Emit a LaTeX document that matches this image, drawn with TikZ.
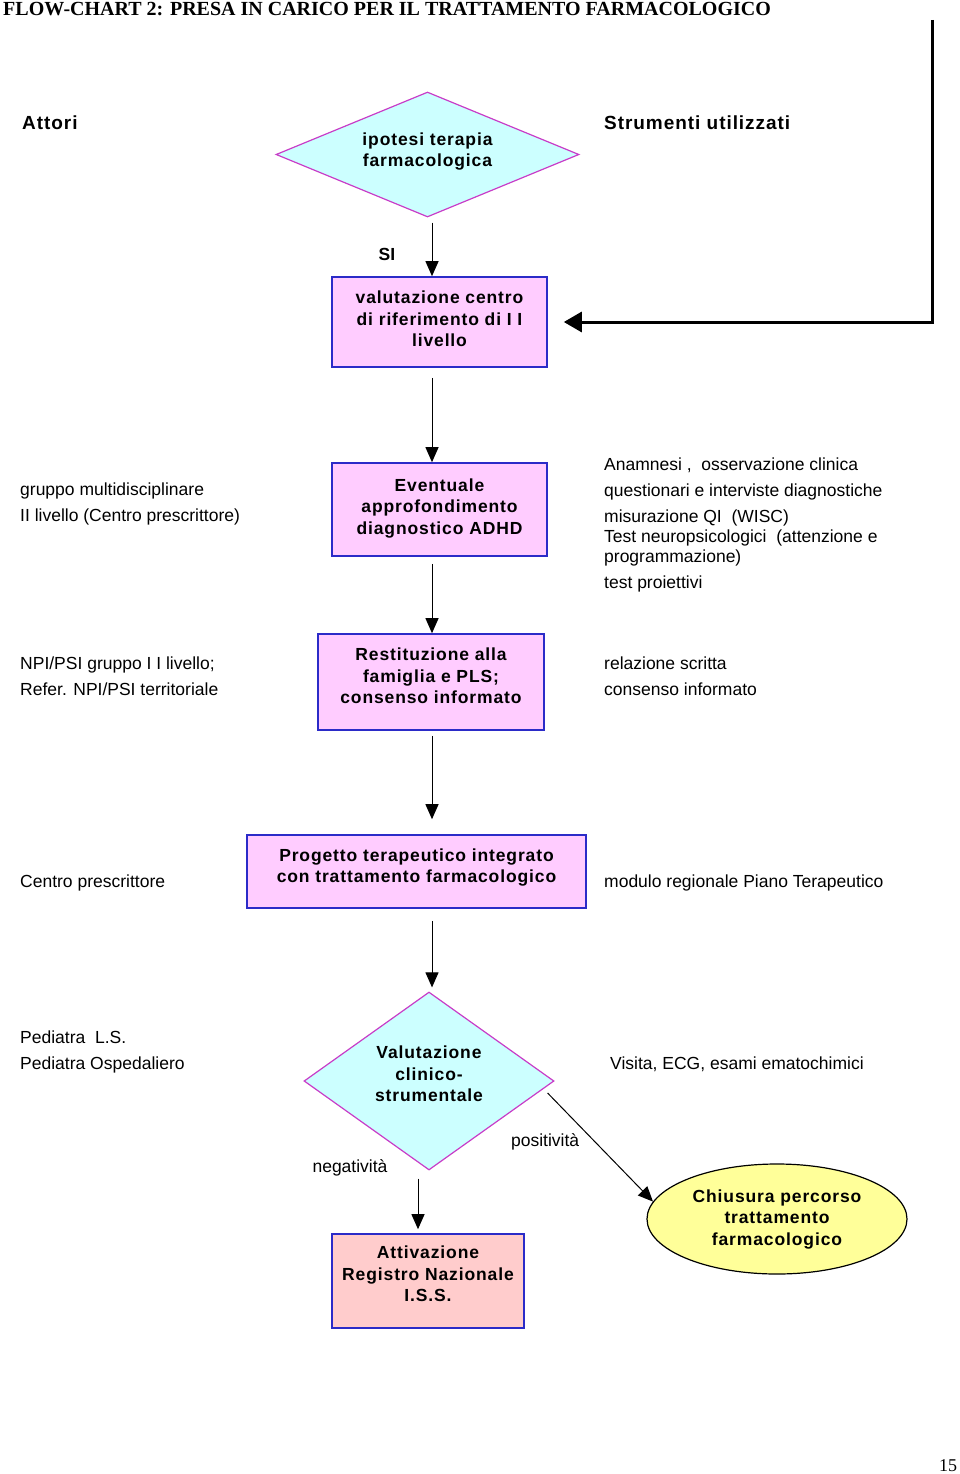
\documentclass[tikz,border=0pt]{standalone}
\usepackage{fontspec}
\setmainfont{Liberation Sans}
\newfontfamily\boxfont{Liberation Sans}[LetterSpace=5]
\newfontfamily\titlefont{Liberation Serif}
\usetikzlibrary{shapes.geometric, arrows.meta, calc}
\usepackage{xcolor}
\definecolor{boxpink}{HTML}{FFCCFF}
\definecolor{boxsalmon}{HTML}{FFCCCC}
\definecolor{boxblue}{HTML}{2B2BC8}
\definecolor{diacyan}{HTML}{CCFFFF}
\definecolor{diamag}{HTML}{C83CC8}
\definecolor{ellyellow}{HTML}{FFFF99}

\begin{document}
\begin{tikzpicture}[
    x=1pt, y=-1pt,
    box/.style={rectangle, draw=boxblue, line width=1.6pt, fill=boxpink, align=center, inner sep=0pt,
        font=\boxfont\bfseries\fontsize{17.5}{21.5}\selectfont},
    decision/.style={diamond, draw=diamag, line width=1.2pt, fill=diacyan, align=center, inner sep=0pt,
        font=\boxfont\bfseries\fontsize{17.5}{21.5}\selectfont},
    closing/.style={ellipse, draw, line width=1.2pt, fill=ellyellow, align=center, inner sep=0pt,
        font=\boxfont\bfseries\fontsize{17.5}{21.5}\selectfont},
    side/.style={anchor=west, align=left, inner sep=0pt, font=\fontsize{17.5}{26}\selectfont},
    header/.style={anchor=west, inner sep=0pt, font=\boxfont\bfseries\fontsize{19}{23}\selectfont},
    arrow/.style={-{Triangle[length=15pt, width=13pt]}, line width=1pt},
    fback/.style={-{Triangle[length=18pt, width=20pt]}, line width=3pt}
]
    \useasboundingbox (0,0) rectangle (960,1474);

    % title and page number
    \node[anchor=base west, inner sep=0pt, font=\titlefont\bfseries\fontsize{20}{24}\selectfont] (title) at (3,16)
        {FLOW-CHART 2: PRESA IN CARICO PER IL TRATTAMENTO FARMACOLOGICO};
    \node[inner sep=0pt, font=\titlefont\fontsize{18}{22}\selectfont] (page) at (948,1466) {15};

    % column headers
    \node[header] (attori) at (22,123) {Attori};
    \node[header] (strumenti) at (604,123) {Strumenti utilizzati};

    % main flow
    \node[decision, aspect=2.4, minimum width=303pt, minimum height=125pt, text depth=10pt] (ipotesi) at (427.5,154.5)
        {ipotesi terapia\\farmacologica};
    \node[box, minimum width=215pt, minimum height=90pt, text depth=6pt] (valutazione) at (439.5,322)
        {valutazione centro\\di riferimento di I I\\livello};
    \node[box, minimum width=215pt, minimum height=93pt, text depth=6pt] (approf) at (439.5,509.5)
        {Eventuale\\approfondimento\\diagnostico ADHD};
    \node[box, minimum width=226pt, minimum height=96pt, text depth=12pt] (restituzione) at (431,682)
        {Restituzione alla\\famiglia e PLS;\\consenso informato};
    \node[box, minimum width=339pt, minimum height=73pt, text depth=12pt] (progetto) at (416.5,871.5)
        {Progetto terapeutico integrato\\con trattamento farmacologico};
    \node[decision, aspect=1.4, minimum width=250pt, minimum height=178pt, text depth=14pt] (clinico) at (429,1081)
        {Valutazione\\clinico-\\strumentale};
    \node[box, fill=boxsalmon, minimum width=192pt, minimum height=94pt, text depth=14pt] (registro) at (428,1281)
        {Attivazione\\Registro Nazionale\\I.S.S.};
    \node[closing, minimum width=260pt, minimum height=110pt] (chiusura) at (777,1219)
        {Chiusura percorso\\trattamento\\farmacologico};

    % actors
    \node[side] (attApprof) at (20,504) {gruppo multidisciplinare\\II livello (Centro prescrittore)};
    \node[side] (attRest) at (20,676) {NPI/PSI gruppo I I livello;\\Refer. NPI/PSI territoriale};
    \node[side] (attProg) at (20,883) {Centro prescrittore};
    \node[side] (attClin) at (20,1052) {Pediatra~~L.S.\\Pediatra Ospedaliero};

    % tools
    \node[side] (strApprof) at (604,525) {Anamnesi ,~~osservazione clinica\\
        questionari e interviste diagnostiche\\
        misurazione QI~~(WISC)\\[-6pt]
        Test neuropsicologici~~(attenzione e\\[-6pt]
        programmazione)\\
        test proiettivi};
    \node[side] (strRest) at (604,676) {relazione scritta\\consenso informato};
    \node[side] (strProg) at (604,883) {modulo regionale Piano Terapeutico};
    \node[side] (strClin) at (610,1064) {Visita, ECG, esami ematochimici};

    % connectors
    \coordinate (spine) at (432,0);
    \coordinate (fbtop) at (932,20);
    \draw[arrow, shorten <=5pt] (ipotesi.south -| spine) -- (valutazione.north -| spine);
    \node[inner sep=0pt, font=\bfseries\fontsize{17.5}{21}\selectfont] (si) at (387,254) {SI};
    \draw[fback, shorten >=16pt] (fbtop) |- (valutazione.east);
    \draw[arrow, shorten <=10pt] (valutazione.south -| spine) -- (approf.north -| spine);
    \draw[arrow, shorten <=7pt] (approf.south -| spine) -- (restituzione.north -| spine);
    \draw[arrow, shorten <=5pt, shorten >=15pt] (restituzione.south -| spine) -- (progetto.north -| spine);
    \draw[arrow, shorten <=12pt, shorten >=4pt] (progetto.south -| spine) -- (clinico.north -| spine);
    \draw[arrow, shorten <=8pt, shorten >=4pt] ([xshift=-11pt]clinico.south) -- ([xshift=-10pt]registro.north);
    \node[inner sep=0pt, font=\fontsize{17.5}{21}\selectfont] (neg) at (350,1168) {negativit\`a};
    \draw[arrow] ([xshift=-7pt, yshift=-12pt]clinico.east) -- node[pos=0.45, left=12pt, font=\fontsize{17.5}{21}\selectfont] {positivit\`a} (chiusura.172);
\end{tikzpicture}
\end{document}
